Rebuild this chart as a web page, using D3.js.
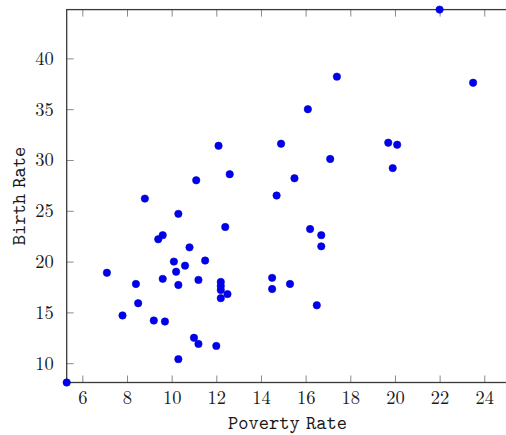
<!DOCTYPE html>
<html>
<head>
<meta charset="utf-8">
<script src="https://cdn.jsdelivr.net/npm/d3@7"></script>
<style>
  body { margin: 0; background: white; }
  svg { display: block; }
</style>
</head>
<body>
<div id="chart"></div>
<script>
// DATA: poverty rate vs birth rate, one point per state
const states = ["AL","AK","AZ","AR","CA","CO","CT","DE","DC","FL","GA","HI","ID","IL","IN","IA","KS",
  "KY","LA","ME","MD","MA","MI","MN","MS","MO","MT","NE","NV","NH","NJ","NM","NY","NC","ND","OH",
  "OK","OR","PA","RI","SC","SD","TN","TX","UT","VT","VA","WA","WV","WI","WY"];
const povertyRate = [20.1, 7.1, 16.1, 14.9, 16.7, 8.8, 9.7, 10.3, 22.0, 16.2, 12.1, 10.3, 14.5, 12.4, 9.6, 12.2, 10.8,
  14.7, 19.7, 11.2, 10.1, 11.0, 12.2, 9.2, 23.5, 9.4, 15.3, 9.6, 11.1, 5.3, 7.8, 25.3, 16.5, 12.6, 12.0, 11.5,
  17.1, 11.2, 12.2, 10.6, 19.9, 14.5, 15.5, 17.4, 8.4, 10.3, 10.2, 12.5, 16.7, 8.5, 12.2];
const birthRate = [31.5, 18.9, 35.0, 31.6, 22.6, 26.2, 14.1, 24.7, 44.8, 23.2, 31.4, 17.7, 18.4, 23.4, 22.6, 16.4, 21.4,
  26.5, 31.7, 11.9, 20.0, 12.5, 18.0, 14.2, 37.6, 22.2, 17.8, 18.3, 28.0, 8.1, 14.7, 37.8, 15.7, 28.6, 11.7, 20.1,
  30.1, 18.2, 17.2, 19.6, 29.2, 17.3, 28.2, 38.2, 17.8, 10.4, 19.0, 16.8, 21.5, 15.9, 17.6];
const xTicks = [6, 8, 10, 12, 14, 16, 18, 20, 22, 24];
const yTicks = [10, 15, 20, 25, 30, 35, 40];

const data = states.map((s, i) => ({ state: s, x: povertyRate[i], y: birthRate[i] }));

// SIZE
const W = 506, H = 435;
const plot = { left: 66.7, right: 513.3, top: 9.6, bottom: 382.5 };
const tickLen = 7;

const serif = '"Latin Modern Roman", "CMU Serif", "Liberation Serif", serif';
const mono = '"Latin Modern Mono", "CMU Typewriter Text", "Liberation Mono", monospace';

const svg = d3.select("#chart").append("svg")
    .attr("width", W)
    .attr("height", H);

const x = d3.scaleLinear()
    .domain(d3.extent(povertyRate))
    .range([plot.left, plot.right]);

const y = d3.scaleLinear()
    .domain(d3.extent(birthRate))
    .range([plot.bottom, plot.top]);

// ticks on all four sides, pointing inward
const bottomAxis = svg.append("g")
    .attr("transform", `translate(0, ${plot.bottom})`)
    .call(d3.axisBottom(x).tickValues(xTicks).tickSizeInner(-tickLen).tickSizeOuter(0).tickPadding(8));
const topAxis = svg.append("g")
    .attr("transform", `translate(0, ${plot.top})`)
    .call(d3.axisTop(x).tickValues(xTicks).tickSizeInner(-tickLen).tickSizeOuter(0).tickFormat(""));
const leftAxis = svg.append("g")
    .attr("transform", `translate(${plot.left}, 0)`)
    .call(d3.axisLeft(y).tickValues(yTicks).tickSizeInner(-tickLen).tickSizeOuter(0).tickPadding(13));
const rightAxis = svg.append("g")
    .attr("transform", `translate(${plot.right}, 0)`)
    .call(d3.axisRight(y).tickValues(yTicks).tickSizeInner(-tickLen).tickSizeOuter(0).tickFormat(""));

[bottomAxis, topAxis, leftAxis, rightAxis].forEach(g => {
  g.select(".domain").remove();
  g.selectAll(".tick line").attr("stroke", "#8a8a8a").attr("stroke-width", 1);
  g.selectAll(".tick text")
      .attr("fill", "#1a1a1a")
      .style("font-family", serif)
      .style("font-size", "18.5px");
});

// axis box
svg.append("rect")
    .attr("x", plot.left)
    .attr("y", plot.top)
    .attr("width", plot.right - plot.left)
    .attr("height", plot.bottom - plot.top)
    .attr("fill", "none")
    .attr("stroke", "#3a3a3a")
    .attr("stroke-width", 1.3);

// points
svg.selectAll(".dot")
    .data(data)
    .enter()
    .append("circle")
    .attr("class", "dot")
    .attr("cx", d => x(d.x))
    .attr("cy", d => y(d.y))
    .attr("r", 3.7)
    .attr("fill", "#0000ee")
    .attr("stroke", "#0000c8")
    .attr("stroke-width", 0.6);

// axis labels
svg.append("text")
    .attr("x", 287.5)
    .attr("y", 429)
    .attr("text-anchor", "middle")
    .attr("fill", "#1a1a1a")
    .style("font-family", mono)
    .style("font-size", "19.5px")
    .style("word-spacing", "-4px")
    .text("Poverty Rate");

svg.append("text")
    .attr("transform", `translate(25, ${(plot.top + plot.bottom) / 2}) rotate(-90)`)
    .attr("text-anchor", "middle")
    .attr("fill", "#1a1a1a")
    .style("font-family", mono)
    .style("font-size", "19.5px")
    .style("word-spacing", "-4px")
    .text("Birth Rate");
</script>
</body>
</html>
